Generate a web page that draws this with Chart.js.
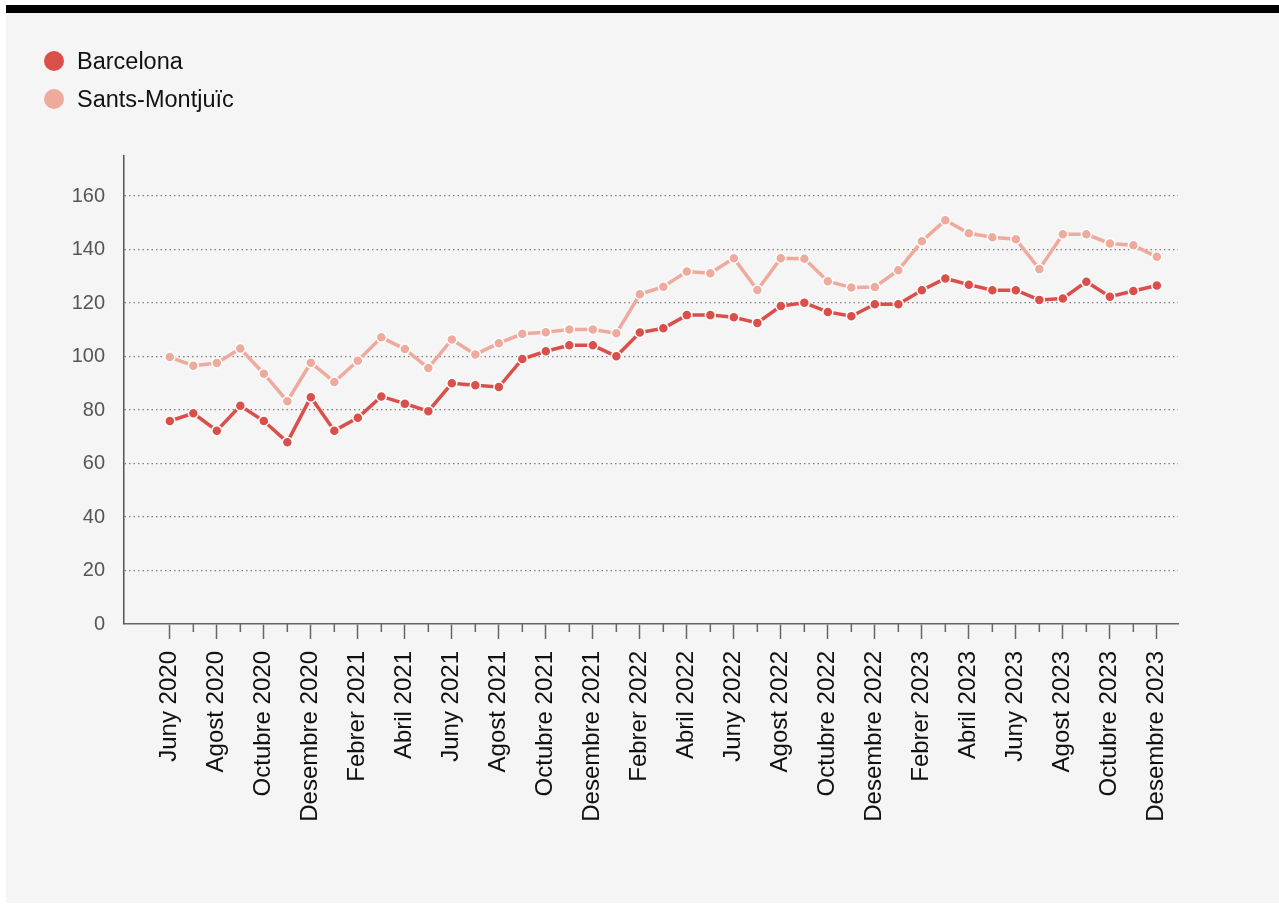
<!DOCTYPE html>
<html>
<head>
<meta charset="utf-8">
<script src="https://cdn.jsdelivr.net/npm/chart.js@4.4.1/dist/chart.umd.min.js"></script>
<style>
  body { margin: 0; background: #fff; font-family: "Liberation Sans", Arial, sans-serif; }
  #panel { position: absolute; left: 6px; top: 5px; width: 1273px; height: 898px; background: #f5f5f5; border-top: 8px solid #000; box-sizing: border-box; }
  #wrap { position: absolute; left: 0; top: 0; width: 1273px; height: 890px; }
  #legend { position: absolute; left: 38px; top: 29px; z-index: 2; }
  .item { display: flex; align-items: center; height: 38px; font-size: 23.5px; color: #111; }
  .dot { width: 20px; height: 20px; border-radius: 50%; margin-right: 13px; }
</style>
</head>
<body>
<div id="panel">
  <div id="legend"></div>
  <div id="wrap"><canvas id="chart"></canvas></div>
</div>
<script>
// Data
const months = [
  "Juny 2020", "Juliol 2020", "Agost 2020", "Setembre 2020", "Octubre 2020", "Novembre 2020", "Desembre 2020",
  "Gener 2021", "Febrer 2021", "Març 2021", "Abril 2021", "Maig 2021", "Juny 2021", "Juliol 2021",
  "Agost 2021", "Setembre 2021", "Octubre 2021", "Novembre 2021", "Desembre 2021",
  "Gener 2022", "Febrer 2022", "Març 2022", "Abril 2022", "Maig 2022", "Juny 2022", "Juliol 2022",
  "Agost 2022", "Setembre 2022", "Octubre 2022", "Novembre 2022", "Desembre 2022",
  "Gener 2023", "Febrer 2023", "Març 2023", "Abril 2023", "Maig 2023", "Juny 2023", "Juliol 2023",
  "Agost 2023", "Setembre 2023", "Octubre 2023", "Novembre 2023", "Desembre 2023"
];
const barcelona = [
  75.9, 78.8, 72.3, 81.6, 75.9, 68.0, 84.8, 72.3, 77.1, 85.1, 82.4, 79.6, 90.0, 89.3, 88.6,
  99.1, 102.0, 104.2, 104.2, 100.1, 109.0, 110.6, 115.5, 115.5, 114.7, 112.6, 118.9, 120.1, 116.7, 115.1,
  119.6, 119.6, 124.8, 129.2, 126.9, 124.8, 124.8, 121.2, 121.7, 128.0, 122.4, 124.5, 126.6
];
const santsMontjuic = [
  99.8, 96.6, 97.6, 103.0, 93.6, 83.3, 97.7, 90.5, 98.4, 107.2, 102.8, 95.7, 106.4, 100.8, 105.0,
  108.5, 109.1, 110.1, 110.1, 108.7, 123.3, 126.1, 131.8, 131.2, 136.8, 124.9, 136.8, 136.6, 128.2, 125.8,
  126.0, 132.3, 143.1, 151.0, 146.1, 144.6, 143.9, 132.7, 145.7, 145.7, 142.3, 141.6, 137.3
];
const yTicks = [0, 20, 40, 60, 80, 100, 120, 140, 160];

const family = '"Liberation Sans", Arial, sans-serif';
const clrBarcelona = "#db4f4b";
const clrSants = "#eeab9d";

const toPoints = (values) => values.map((v, i) => ({ x: i, y: v }));

// short ticks for the unlabelled months
const minorTicks = {
  id: "minorTicks",
  afterDraw(chart) {
    const x = chart.scales.x;
    const ctx = chart.ctx;
    ctx.save();
    ctx.strokeStyle = "#666";
    ctx.lineWidth = 1.5;
    months.forEach((m, i) => {
      if (i % 2 === 0) return;
      const px = x.getPixelForValue(i);
      ctx.beginPath();
      ctx.moveTo(px, x.top);
      ctx.lineTo(px, x.top + 8);
      ctx.stroke();
    });
    ctx.restore();
  },
};

const chart = new Chart(document.getElementById("chart"), {
  type: "line",
  data: {
    datasets: [
      {
        label: "Barcelona",
        data: toPoints(barcelona),
        borderColor: clrBarcelona,
        backgroundColor: clrBarcelona,
        borderWidth: 3.5,
        pointRadius: 5,
        pointBorderWidth: 1.5,
        pointBorderColor: "#fff",
        pointBackgroundColor: clrBarcelona,
      },
      {
        label: "Sants-Montjuïc",
        data: toPoints(santsMontjuic),
        borderColor: clrSants,
        backgroundColor: clrSants,
        borderWidth: 3.5,
        pointRadius: 5,
        pointBorderWidth: 1.5,
        pointBorderColor: "#fff",
        pointBackgroundColor: clrSants,
      },
    ],
  },
  options: {
    responsive: true,
    maintainAspectRatio: false,
    animation: false,
    layout: { padding: { top: 143, right: 101, left: 0, bottom: 0 } },
    plugins: {
      legend: { display: false },
      tooltip: { enabled: false },
    },
    scales: {
      x: {
        type: "linear",
        min: -1.95,
        max: 42.9,
        afterBuildTicks: (axis) => {
          axis.ticks = months.map((m, i) => ({ value: i }));
        },
        afterFit: (scale) => {
          scale.height = 279;
        },
        grid: {
          drawOnChartArea: false,
          tickLength: 15,
          tickWidth: 1.5,
          tickColor: (c) => (c.index % 2 ? "rgba(0,0,0,0)" : "#666"),
        },
        border: { color: "#666", width: 1.5 },
        ticks: {
          autoSkip: false,
          maxRotation: 90,
          minRotation: 90,
          padding: 12,
          color: "#111",
          font: { size: 24, family: family },
          callback: (v, i) => (i % 2 ? "" : months[v]),
        },
      },
      y: {
        min: 0,
        max: 175,
        afterBuildTicks: (axis) => {
          axis.ticks = yTicks.map((v) => ({ value: v }));
        },
        afterFit: (scale) => {
          scale.width = 118;
        },
        grid: {
          color: (c) => (c.tick && c.tick.value === 0 ? "rgba(0,0,0,0)" : "#808080"),
          lineWidth: 1.3,
          drawTicks: false,
        },
        border: { display: true, color: "#555", width: 1.5, dash: [1.5, 3] },
        ticks: {
          color: "#555",
          padding: 19,
          font: { size: 20, family: family },
        },
      },
    },
  },
  plugins: [minorTicks],
});

// legend
const legendEl = document.getElementById("legend");
chart.data.datasets.forEach((ds) => {
  const item = document.createElement("div");
  item.className = "item";
  item.innerHTML = '<span class="dot" style="background:' + ds.borderColor + '"></span>' + ds.label;
  legendEl.appendChild(item);
});
</script>
</body>
</html>
